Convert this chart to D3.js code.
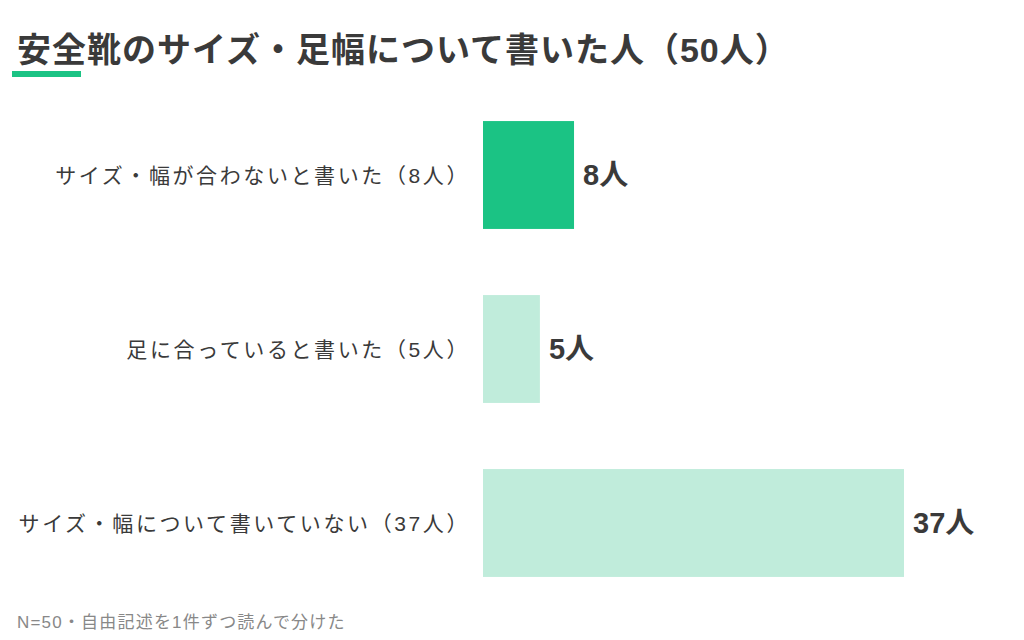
<!DOCTYPE html>
<html>
<head>
<meta charset="utf-8">
<script src="https://cdn.jsdelivr.net/npm/d3@7"></script>
<style>
  html, body { margin: 0; padding: 0; background: #fff; }
  svg text { font-family: "Liberation Sans", "Noto Sans CJK JP", sans-serif; }
</style>
</head>
<body>
<div id="chart"></div>
<script>
// 安全靴のサイズ・足幅について書いた人
var categories = [
    'サイズ・幅が合わないと書いた（8人）',
    '足に合っていると書いた（5人）',
    'サイズ・幅について書いていない（37人）'
];
var counts = [8, 5, 37];
var barColors = ['#1bc384', '#c0ecdb', '#c0ecdb'];
var titleText = '安全靴のサイズ・足幅について書いた人（50人）';
var noteText = 'N=50・自由記述を1件ずつ読んで分けた';

(function() {
    'use strict';

    var width = 1024, height = 640;
    var svg = d3.select('#chart').append('svg')
        .attr('width', width)
        .attr('height', height)
        .attr('viewBox', [0, 0, width, height].join(' '));

    // Title + accent underline
    svg.append('text')
        .attr('x', 17)
        .attr('y', 62)
        .attr('font-size', 34)
        .attr('font-weight', 700)
        .attr('letter-spacing', 1)
        .attr('fill', '#3a3a3a')
        .text(titleText);

    svg.append('rect')
        .attr('x', 12)
        .attr('y', 71)
        .attr('width', 69)
        .attr('height', 6)
        .attr('fill', '#1bc384');

    // Scales
    var x = d3.scaleLinear()
        .domain([0, d3.max(counts)])
        .range([483, 904]);

    var y = d3.scaleBand()
        .domain(categories)
        .range([88, 610])
        .paddingInner(0.38)
        .paddingOuter(0.19);

    var rows = categories.map(function(c, i) {
        return { name: c, value: counts[i], color: barColors[i] };
    });

    var row = svg.append('g')
        .selectAll('.row')
        .data(rows)
        .join('g')
        .attr('class', 'row');

    row.append('rect')
        .attr('x', x(0))
        .attr('y', function(d) { return y(d.name); })
        .attr('width', function(d) { return x(d.value) - x(0); })
        .attr('height', y.bandwidth())
        .attr('fill', function(d) { return d.color; });

    // Category labels (left of bars)
    row.append('text')
        .attr('x', 470)
        .attr('y', function(d) { return y(d.name) + y.bandwidth() / 2 + 8; })
        .attr('text-anchor', 'end')
        .attr('font-size', 21)
        .attr('letter-spacing', 2.6)
        .attr('fill', '#3a3a3a')
        .text(function(d) { return d.name; });

    // Value labels
    row.append('text')
        .attr('x', function(d) { return x(d.value) + 9; })
        .attr('y', function(d) { return y(d.name) + y.bandwidth() / 2 + 10; })
        .attr('font-size', 29)
        .attr('font-weight', 700)
        .attr('fill', '#3a3a3a')
        .text(function(d) { return d.value + '人'; });

    // Footnote
    svg.append('text')
        .attr('x', 17)
        .attr('y', 628)
        .attr('font-size', 17)
        .attr('letter-spacing', 1.2)
        .attr('fill', '#888')
        .text(noteText);
})();
</script>
</body>
</html>
